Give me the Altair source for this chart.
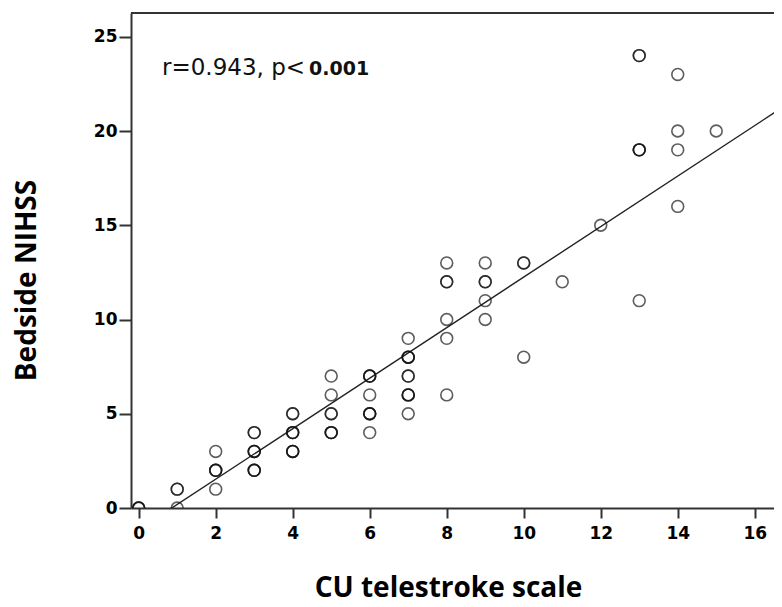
import altair as alt
import pandas as pd

# CU telestroke scale (x) vs bedside NIHSS (y); n = number of overlapping patients
cu_scale = [0, 1, 1, 2, 2, 2, 3, 3, 3, 4, 4, 4, 5, 5, 5, 5, 6, 6, 6, 6,
            7, 7, 7, 7, 7, 8, 8, 8, 8, 8, 9, 9, 9, 9, 10, 10, 11, 12,
            13, 13, 13, 14, 14, 14, 14, 15]
nihss = [0, 1, 0, 3, 2, 1, 4, 3, 2, 5, 4, 3, 7, 6, 5, 4, 7, 6, 5, 4,
         9, 8, 7, 6, 5, 13, 12, 10, 9, 6, 13, 12, 11, 10, 13, 8, 12, 15,
         24, 19, 11, 23, 20, 19, 16, 20]
n_overlap = [3, 2, 1, 1, 3, 1, 2, 3, 3, 2, 3, 3, 1, 1, 2, 3, 3, 1, 3, 1,
             1, 3, 2, 3, 1, 1, 2, 1, 1, 1, 1, 2, 1, 1, 2, 1, 1, 1,
             2, 3, 1, 1, 1, 1, 1, 1]

# fitted line
fit_intercept = -1.15
fit_slope = 1.34
fit_x = [0, 16.6]

x_ticks = [0, 2, 4, 6, 8, 10, 12, 14, 16]
y_ticks = [0, 5, 10, 15, 20, 25]
x_domain = [-0.2, 16.5]
y_domain = [0, 26.26]

W, H = 643, 495

rows = []
for xv, yv, n in zip(cu_scale, nihss, n_overlap):
    for _ in range(n):
        rows.append({"x": xv, "y": yv})
pts = pd.DataFrame(rows)
fit = pd.DataFrame({"x": fit_x, "y": [fit_intercept + fit_slope * v for v in fit_x]})

xs = alt.Scale(domain=x_domain, nice=False, zero=False)
ys = alt.Scale(domain=y_domain, nice=False, zero=False)

x_axis = alt.Axis(values=x_ticks, title="CU telestroke scale", tickSize=10,
                  labelPadding=7, titleY=88, titleBaseline="alphabetic",
                  titleX=317)
y_axis = alt.Axis(values=y_ticks, title="Bedside NIHSS", tickSize=12,
                  labelPadding=2, titleX=-96, titleY=267, titleAngle=-90,
                  titleBaseline="alphabetic")

points = alt.Chart(pts).mark_point(
    filled=False, size=140, stroke="#111111", strokeWidth=1.6, opacity=0.68, clip=True
).encode(
    x=alt.X("x:Q", scale=xs, axis=x_axis),
    y=alt.Y("y:Q", scale=ys, axis=y_axis),
)

line = alt.Chart(fit).mark_line(color="#222222", strokeWidth=1.4, clip=True).encode(
    x=alt.X("x:Q", scale=xs), y=alt.Y("y:Q", scale=ys)
)

top_border = alt.Chart(pd.DataFrame({"a": [0]})).mark_rule(
    color="#333333", strokeWidth=2
).encode(x=alt.value(0), x2=alt.value(W), y=alt.value(0))

ann1 = alt.Chart(pd.DataFrame({"t": ["r=0.943, p<"]})).mark_text(
    align="left", baseline="middle", font="DejaVu Sans", fontSize=23, color="#111111"
).encode(x=alt.value(31), y=alt.value(55), text="t:N")

ann2 = alt.Chart(pd.DataFrame({"t": ["0.001"]})).mark_text(
    align="left", baseline="middle", font="DejaVu Sans", fontSize=19,
    fontWeight="bold", color="#111111"
).encode(x=alt.value(178), y=alt.value(56), text="t:N")

chart = (
    alt.layer(line, points, top_border, ann1, ann2)
    .properties(
        width=W, height=H,
        autosize=alt.AutoSizeParams(type="none"),
        padding={"left": 123, "top": 5, "right": 0, "bottom": 90},
    )
    .configure_view(stroke=None)
    .configure_axis(
        grid=False,
        domainColor="#333333", domainWidth=2,
        tickColor="#333333", tickWidth=2,
        labelFont="DejaVu Sans", labelFontWeight="bold", labelFontSize=17,
        labelColor="#000000",
        titleFont="Open Sans", titleFontWeight="bold", titleFontSize=28,
        titleColor="#000000",
    )
)

chart.save("out.html", embed_options={"renderer": "svg", "actions": False})
